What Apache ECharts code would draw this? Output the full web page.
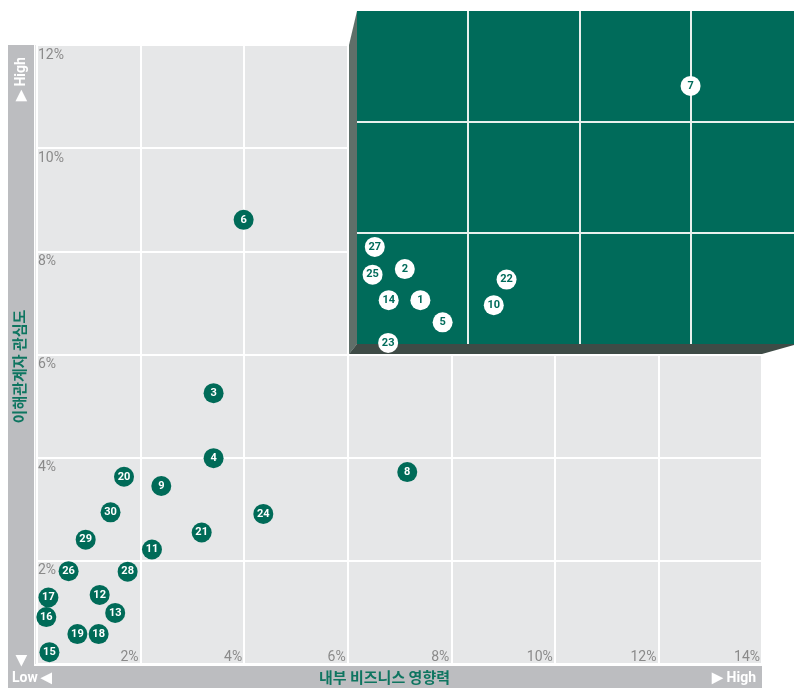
<!DOCTYPE html>
<html>
<head>
<meta charset="utf-8">
<script src="https://cdn.jsdelivr.net/npm/echarts@6/dist/echarts.min.js"></script>
<style>
html,body{margin:0;padding:0;background:#fff;}
#chart{width:794px;height:688px;}
</style>
</head>
<body>
<div id="chart"></div>
<script>
// ---- Data ----
const xTickLabels = ['0%','2%','4%','6%','8%','10%','12%','14%'];
const yTickLabels = ['0%','2%','4%','6%','8%','10%','12%'];

const mainIds = [6, 3, 4, 8, 20, 9, 30, 24, 21, 29, 11, 26, 28, 17, 12, 13, 16, 19, 18, 15];
const mainX   = [3.99, 3.41, 3.41, 7.15, 1.68, 2.40, 1.42, 4.37, 3.18, 0.94, 2.22, 0.61, 1.75, 0.22, 1.21, 1.51, 0.18, 0.78, 1.19, 0.24];
const mainY   = [8.61, 5.25, 3.99, 3.72, 3.63, 3.45, 2.94, 2.91, 2.55, 2.41, 2.22, 1.80, 1.79, 1.29, 1.34, 0.99, 0.91, 0.58, 0.58, 0.23];

const focusIds = [7, 27, 25, 2, 14, 1, 5, 23, 22, 10];
const focusX   = [12.00, 6.32, 6.28, 6.86, 6.57, 7.14, 7.54, 6.56, 8.69, 8.46];
const focusY   = [10.65, 7.75, 7.25, 7.35, 6.79, 6.79, 6.39, 6.02, 7.16, 6.70];

const focusGridX = [8, 10, 12];
const focusGridY = [8, 10];

const xTitle = '내부 비즈니스 영향력';
const yTitle = '이해관계자 관심도';

// ---- Build ----
const GREEN = '#006B58';
const PANEL = '#006B5A';
const BAR = '#BCBDC0';
const PLOT = '#E6E7E8';

const mainData = mainIds.map((id, i) => [mainX[i], mainY[i], id]);
const focusData = focusIds.map((id, i) => [focusX[i], focusY[i], id]);

const chart = echarts.init(document.getElementById('chart'), null, {renderer: 'canvas'});

const option = {
  animation: false,
  grid: [
    {left: 37, top: 45, width: 725, height: 619, outerBoundsMode: 'none', containLabel: false, show: true, backgroundColor: PLOT, borderWidth: 0, z: 0},
    {left: 357, top: 11, width: 437, height: 333, outerBoundsMode: 'none', containLabel: false, show: true, backgroundColor: PANEL, borderWidth: 0, z: 5}
  ],
  xAxis: [
    {
      gridIndex: 0, type: 'value', min: 0, max: 14, interval: 2, z: 1,
      axisLine: {show: false}, axisTick: {show: false},
      splitLine: {show: true, lineStyle: {color: '#ffffff', width: 2}},
      axisLabel: {
        inside: true, margin: 0, align: 'right', verticalAlign: 'bottom',
        padding: [0, 2, 0, 0],
        showMinLabel: false, showMaxLabel: true,
        color: '#8A8A8A', fontSize: 14, fontFamily: 'Roboto',
        formatter: v => xTickLabels[Math.round(v / 2)]
      },
      name: xTitle, nameLocation: 'middle', nameGap: 3,
      nameTextStyle: {color: '#0E7560', fontSize: 15, fontWeight: 'bold', fontFamily: 'Noto Sans CJK KR', padding: [0, 30, 0, 0], verticalAlign: 'top'}
    },
    {
      gridIndex: 1, type: 'value', min: 6, max: 13.86, interval: 2, z: 6,
      axisLine: {show: false}, axisTick: {show: false}, axisLabel: {show: false}, splitLine: {show: false}
    }
  ],
  yAxis: [
    {
      gridIndex: 0, type: 'value', min: 0, max: 12, interval: 2, z: 1,
      axisLine: {show: false}, axisTick: {show: false},
      splitLine: {show: true, lineStyle: {color: '#ffffff', width: 2}},
      axisLabel: {
        inside: true, margin: 1, align: 'left', verticalAlign: 'top',
        padding: [3, 0, 0, 0],
        showMinLabel: false, showMaxLabel: true,
        color: '#8A8A8A', fontSize: 14, fontFamily: 'Roboto',
        formatter: v => yTickLabels[Math.round(v / 2)]
      },
      name: yTitle, nameLocation: 'middle', nameGap: 16, nameRotate: 90,
      nameTextStyle: {color: '#0E7560', fontSize: 15, fontWeight: 'bold', fontFamily: 'Noto Sans CJK KR', verticalAlign: 'middle', padding: [0, 24, 0, 0]}
    },
    {
      gridIndex: 1, type: 'value', min: 6, max: 12, interval: 2, z: 6,
      axisLine: {show: false}, axisTick: {show: false}, axisLabel: {show: false}, splitLine: {show: false}
    }
  ],
  series: [
    {
      type: 'scatter', xAxisIndex: 0, yAxisIndex: 0, z: 3,
      symbolSize: 20,
      itemStyle: {color: GREEN, opacity: 1},
      label: {show: true, position: 'inside', color: '#fff', fontSize: 11, fontWeight: 'bold', fontFamily: 'Roboto', formatter: p => p.data[2]},
      data: mainData
    },
    {
      type: 'scatter', xAxisIndex: 1, yAxisIndex: 1, z: 8,
      symbolSize: 20,
      itemStyle: {color: '#ffffff', opacity: 1},
      label: {show: true, position: 'inside', color: PANEL, fontSize: 11, fontWeight: 'bold', fontFamily: 'Roboto', formatter: p => p.data[2]},
      markLine: {
        silent: true, symbol: 'none', label: {show: false},
        lineStyle: {color: '#E8F0ED', width: 2, type: 'solid'},
        data: focusGridX.map(v => ({xAxis: v})).concat(focusGridY.map(v => ({yAxis: v})))
      },
      data: focusData
    }
  ],
  graphic: [
    {type: 'rect', z: 1, shape: {x: 8, y: 45, width: 26, height: 621}, style: {fill: BAR}},
    {type: 'rect', z: 1, shape: {x: 8, y: 666, width: 754, height: 22}, style: {fill: BAR}},
    {type: 'rect', z: 0, shape: {x: 35, y: 45, width: 2, height: 619}, style: {fill: PLOT}},
    {type: 'polygon', z: 4, shape: {points: [[349, 45], [357, 11], [357, 344], [349, 354]]}, style: {fill: '#5F6F69'}},
    {type: 'polygon', z: 4, shape: {points: [[349, 354], [357, 344], [794, 344], [794, 345], [762, 354]]}, style: {fill: '#3E4B46'}},
    {type: 'text', z: 2, x: 12, y: 678, style: {text: 'Low ◀', fill: '#fff', font: 'bold 14px Roboto', verticalAlign: 'middle', align: 'left'}},
    {type: 'text', z: 2, x: 756, y: 678, style: {text: '▶ High', fill: '#fff', font: 'bold 14px Roboto', verticalAlign: 'middle', align: 'right'}},
    {type: 'text', z: 2, x: 21, y: 101, rotation: Math.PI / 2, style: {text: '▶ High', fill: '#fff', font: 'bold 14px Roboto', verticalAlign: 'middle', align: 'left'}},
    {type: 'text', z: 2, x: 21, y: 660, rotation: Math.PI / 2, style: {text: '◀', fill: '#fff', font: 'bold 14px Roboto', verticalAlign: 'middle', align: 'center'}}
  ]
};
chart.setOption(option);
</script>
</body>
</html>
